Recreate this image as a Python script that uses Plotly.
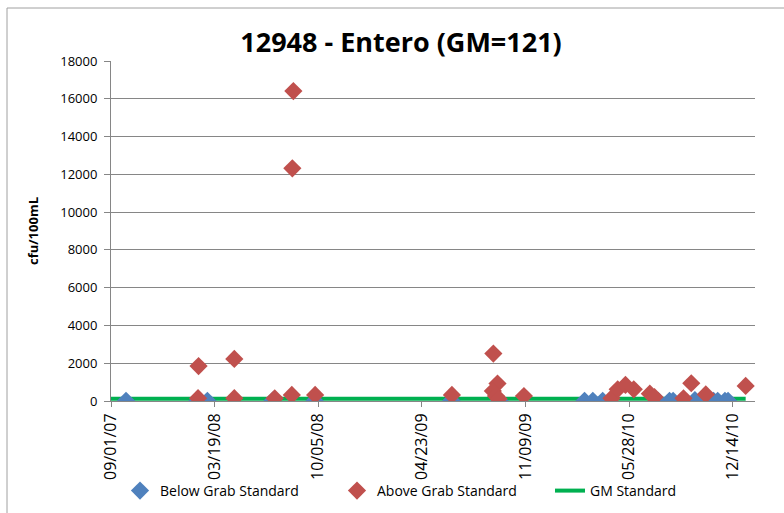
import plotly.graph_objects as go

# ---- data ----
below_dates = ["2007-09-30", "2008-02-15", "2008-03-05", "2008-07-09", "2008-09-28",
               "2009-06-19", "2009-09-20",
               "2010-03-03", "2010-03-19", "2010-04-07", "2010-07-23", "2010-08-14",
               "2010-08-21", "2010-10-02", "2010-11-07", "2010-11-15", "2010-11-29",
               "2010-12-05"]
below_vals = [10, 10, 10, 20, 10,
              20, 10,
              10, 10, 10, 10, 10,
              10, 50, 10, 10, 10,
              10]

above_dates = ["2008-02-17", "2008-02-16", "2008-04-26", "2008-04-26", "2008-07-13",
               "2008-08-15", "2008-08-18", "2008-08-16", "2008-09-29",
               "2009-06-20", "2009-09-08", "2009-09-16", "2009-09-07", "2009-09-13",
               "2009-09-18", "2009-11-06",
               "2010-04-24", "2010-05-06", "2010-05-21", "2010-06-06", "2010-07-07",
               "2010-07-16", "2010-09-10", "2010-09-25", "2010-10-23", "2011-01-08"]
above_vals = [1850, 150, 2230, 150, 140,
              320, 16410, 12320, 320,
              320, 2510, 920, 530, 265,
              120, 265,
              140, 620, 850, 620, 390,
              210, 140, 940, 350, 800]

gm_dates = ["2007-09-01", "2011-01-08"]
gm_vals = [120, 120]

tick_dates = ["2007-09-01", "2008-03-19", "2008-10-05", "2009-04-23",
              "2009-11-09", "2010-05-28", "2010-12-14"]
tick_labels = ["09/01/07", "03/19/08", "10/05/08", "04/23/09",
               "11/09/09", "05/28/10", "12/14/10"]

title_text = "12948 - Entero (GM=121)"
y_title = "cfu/100mL"

# ---- figure ----
FONT = "Open Sans"
L, R, T, B = 111, 29, 61, 112
PW, PH = 784 - L - R, 513 - T - B


def px_x(px):
    return (px - L) / PW


def px_y(py):
    return (513 - B - py) / PH


fig = go.Figure()

fig.add_trace(go.Scatter(
    x=gm_dates, y=gm_vals, mode="lines", name="GM Standard",
    line=dict(color="#00B050", width=4), legend="legend3"))
fig.add_trace(go.Scatter(
    x=below_dates, y=below_vals, mode="markers", name="Below Grab Standard",
    marker=dict(symbol="diamond", size=14, color="#4F81BD", line=dict(width=0)),
    legend="legend"))
fig.add_trace(go.Scatter(
    x=above_dates, y=above_vals, mode="markers", name="Above Grab Standard",
    marker=dict(symbol="diamond", size=14, color="#C0504D", line=dict(width=0)),
    legend="legend2"))

leg_common = dict(orientation="h", yanchor="middle", xanchor="left",
                  font=dict(family=FONT, size=14), bgcolor="rgba(0,0,0,0)",
                  itemwidth=30)
leg_y = px_y(491)

fig.update_layout(
    width=784, height=513,
    paper_bgcolor="white", plot_bgcolor="white",
    margin=dict(l=L, r=R, t=T, b=B, autoexpand=False),
    font=dict(family=FONT, color="black", size=13),
    title=dict(text="<b>" + title_text + "</b>", x=px_x(401), xanchor="center",
               xref="paper", y=1 - 43 / 513, yanchor="middle",
               font=dict(family=FONT, size=27, color="black")),
    showlegend=True,
    legend=dict(x=px_x(120), y=leg_y, **leg_common),
    legend2=dict(x=px_x(337), y=leg_y, **leg_common),
    legend3=dict(x=px_x(550), y=leg_y, **leg_common),
    xaxis=dict(type="date", range=["2007-09-01", "2011-01-26"],
               tickmode="array", tickvals=tick_dates, ticktext=tick_labels,
               tickangle=-90, ticks="outside", ticklen=5, tickcolor="#868686",
               showgrid=False, showline=True, linecolor="#868686", linewidth=1,
               tickfont=dict(family=FONT, size=16), zeroline=False,
               automargin=False),
    yaxis=dict(range=[0, 18000], dtick=2000, tickformat="d",
               ticks="outside", ticklen=6, tickcolor="#868686",
               ticklabelstandoff=4,
               showgrid=True, gridcolor="#868686", gridwidth=1,
               showline=True, linecolor="#868686", linewidth=1, zeroline=False,
               tickfont=dict(family=FONT, size=13), automargin=False,
               title=dict(text="<b>" + y_title + "</b>", standoff=18,
                          font=dict(family=FONT, size=13))),
)

# outer chart border (left and top visible)
fig.add_shape(type="line", xref="paper", yref="paper",
              x0=px_x(7), x1=px_x(7), y0=px_y(513), y1=px_y(8),
              line=dict(color="#A0A0A0", width=1))
fig.add_shape(type="line", xref="paper", yref="paper",
              x0=px_x(7), x1=px_x(784), y0=px_y(8), y1=px_y(8),
              line=dict(color="#A0A0A0", width=1))

fig.write_html("out.html",
               config={"displayModeBar": False},
               post_script="document.body.style.margin='0';document.body.style.padding='0';")
